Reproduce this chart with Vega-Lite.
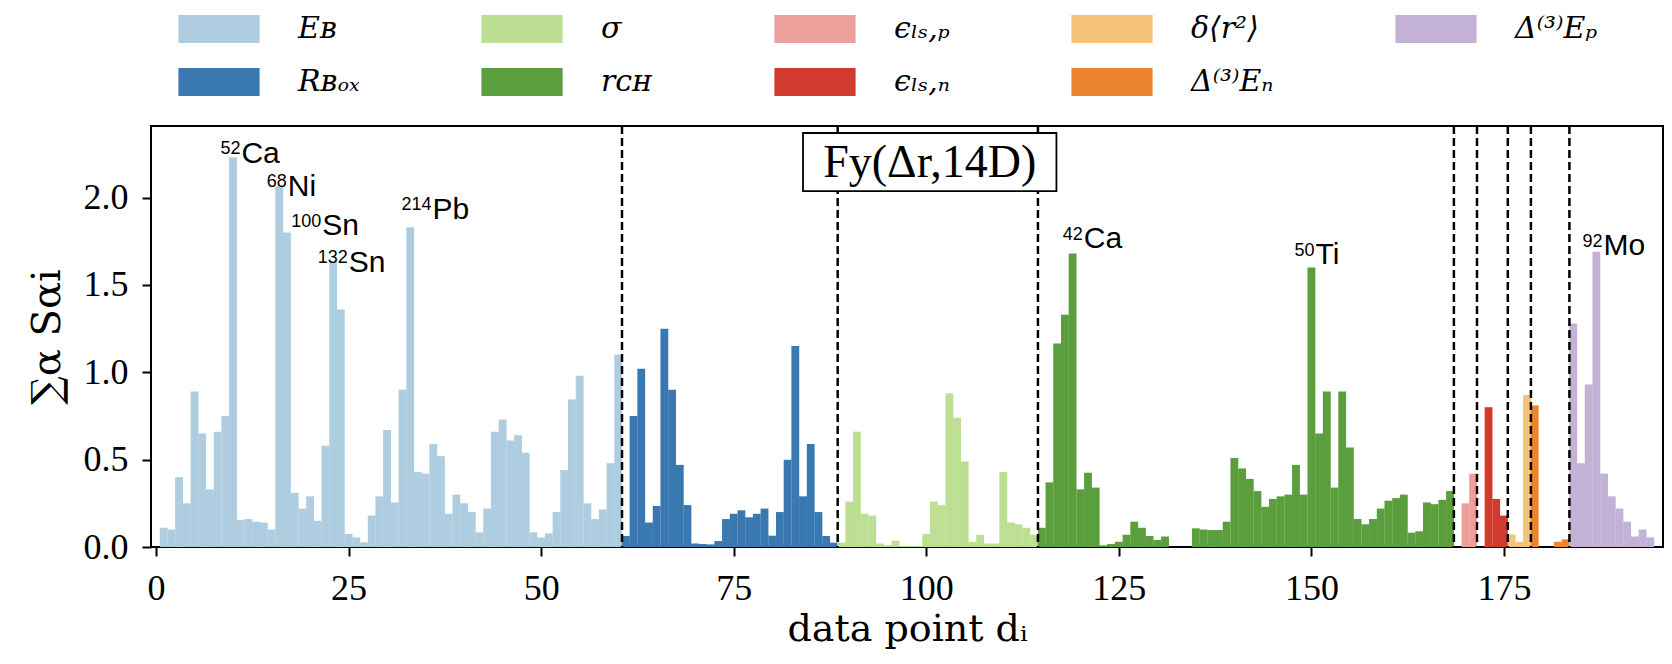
{
  "$schema": "https://vega.github.io/schema/vega-lite/v6.json",
  "width": 1512,
  "height": 421,
  "autosize": "none",
  "padding": {"left": 151, "top": 126, "right": 9, "bottom": 117},
  "background": "white",
  "config": {
    "view": {"stroke": "black", "strokeWidth": 2},
    "axis": {
      "domain": false, "grid": false,
      "tickColor": "black", "tickWidth": 2, "tickSize": 9,
      "labelFont": "Liberation Serif", "labelFontSize": 36, "labelColor": "black",
      "labelFlush": false, "labelOverlap": false,
      "titleFont": "DejaVu Serif", "titleFontSize": 38, "titleFontWeight": "normal", "titleColor": "black"
    },
    "legend": {
      "orient": "none", "legendX": 53, "legendY": -112, "columns": 5, "direction": "horizontal",
      "symbolType": "M-2.9,-1H2.9V1H-2.9Z", "symbolSize": 784, "symbolStrokeWidth": 0, "symbolOpacity": 1,
      "labelFont": "DejaVu Serif", "labelFontSize": 30, "labelFontStyle": "italic", "labelColor": "black",
      "labelOffset": 64, "labelLimit": 400, "columnPadding": 121, "rowPadding": 23
    }
  },
  "datasets": {
    "bars": [
      {"d":1,"v":0.11,"p":"EB"},{"d":2,"v":0.10,"p":"EB"},{"d":3,"v":0.40,"p":"EB"},{"d":4,"v":0.25,"p":"EB"},{"d":5,"v":0.89,"p":"EB"},
      {"d":6,"v":0.65,"p":"EB"},{"d":7,"v":0.33,"p":"EB"},{"d":8,"v":0.66,"p":"EB"},{"d":9,"v":0.75,"p":"EB"},{"d":10,"v":2.23,"p":"EB"},
      {"d":11,"v":0.155,"p":"EB"},{"d":12,"v":0.16,"p":"EB"},{"d":13,"v":0.145,"p":"EB"},{"d":14,"v":0.14,"p":"EB"},{"d":15,"v":0.10,"p":"EB"},
      {"d":16,"v":2.065,"p":"EB"},{"d":17,"v":1.80,"p":"EB"},{"d":18,"v":0.31,"p":"EB"},{"d":19,"v":0.22,"p":"EB"},{"d":20,"v":0.29,"p":"EB"},
      {"d":21,"v":0.15,"p":"EB"},{"d":22,"v":0.58,"p":"EB"},{"d":23,"v":1.63,"p":"EB"},{"d":24,"v":1.36,"p":"EB"},{"d":25,"v":0.075,"p":"EB"},
      {"d":26,"v":0.055,"p":"EB"},{"d":27,"v":0.027,"p":"EB"},{"d":28,"v":0.18,"p":"EB"},{"d":29,"v":0.29,"p":"EB"},{"d":30,"v":0.67,"p":"EB"},
      {"d":31,"v":0.255,"p":"EB"},{"d":32,"v":0.90,"p":"EB"},{"d":33,"v":1.83,"p":"EB"},{"d":34,"v":0.43,"p":"EB"},{"d":35,"v":0.42,"p":"EB"},
      {"d":36,"v":0.59,"p":"EB"},{"d":37,"v":0.52,"p":"EB"},{"d":38,"v":0.19,"p":"EB"},{"d":39,"v":0.30,"p":"EB"},{"d":40,"v":0.25,"p":"EB"},
      {"d":41,"v":0.20,"p":"EB"},{"d":42,"v":0.084,"p":"EB"},{"d":43,"v":0.22,"p":"EB"},{"d":44,"v":0.66,"p":"EB"},{"d":45,"v":0.73,"p":"EB"},
      {"d":46,"v":0.61,"p":"EB"},{"d":47,"v":0.64,"p":"EB"},{"d":48,"v":0.54,"p":"EB"},{"d":49,"v":0.084,"p":"EB"},{"d":50,"v":0.055,"p":"EB"},
      {"d":51,"v":0.078,"p":"EB"},{"d":52,"v":0.20,"p":"EB"},{"d":53,"v":0.44,"p":"EB"},{"d":54,"v":0.845,"p":"EB"},{"d":55,"v":0.98,"p":"EB"},
      {"d":56,"v":0.25,"p":"EB"},{"d":57,"v":0.16,"p":"EB"},{"d":58,"v":0.215,"p":"EB"},{"d":59,"v":0.48,"p":"EB"},{"d":60,"v":1.10,"p":"EB"},
      {"d":61,"v":0.063,"p":"Rbox"},{"d":62,"v":0.75,"p":"Rbox"},{"d":63,"v":1.02,"p":"Rbox"},{"d":64,"v":0.14,"p":"Rbox"},{"d":65,"v":0.235,"p":"Rbox"},
      {"d":66,"v":1.25,"p":"Rbox"},{"d":67,"v":0.90,"p":"Rbox"},{"d":68,"v":0.47,"p":"Rbox"},{"d":69,"v":0.24,"p":"Rbox"},{"d":70,"v":0.02,"p":"Rbox"},
      {"d":71,"v":0.017,"p":"Rbox"},{"d":72,"v":0.015,"p":"Rbox"},{"d":73,"v":0.034,"p":"Rbox"},{"d":74,"v":0.16,"p":"Rbox"},{"d":75,"v":0.19,"p":"Rbox"},
      {"d":76,"v":0.21,"p":"Rbox"},{"d":77,"v":0.17,"p":"Rbox"},{"d":78,"v":0.19,"p":"Rbox"},{"d":79,"v":0.22,"p":"Rbox"},{"d":80,"v":0.065,"p":"Rbox"},
      {"d":81,"v":0.20,"p":"Rbox"},{"d":82,"v":0.50,"p":"Rbox"},{"d":83,"v":1.15,"p":"Rbox"},{"d":84,"v":0.29,"p":"Rbox"},{"d":85,"v":0.59,"p":"Rbox"},
      {"d":86,"v":0.20,"p":"Rbox"},{"d":87,"v":0.063,"p":"Rbox"},{"d":88,"v":0.025,"p":"Rbox"},
      {"d":89,"v":0.025,"p":"sig"},{"d":90,"v":0.26,"p":"sig"},{"d":91,"v":0.66,"p":"sig"},{"d":92,"v":0.19,"p":"sig"},{"d":93,"v":0.18,"p":"sig"},
      {"d":94,"v":0.02,"p":"sig"},{"d":95,"v":0.01,"p":"sig"},{"d":96,"v":0.036,"p":"sig"},{"d":97,"v":0.006,"p":"sig"},{"d":98,"v":0.006,"p":"sig"},
      {"d":99,"v":0.006,"p":"sig"},{"d":100,"v":0.075,"p":"sig"},{"d":101,"v":0.26,"p":"sig"},{"d":102,"v":0.24,"p":"sig"},{"d":103,"v":0.88,"p":"sig"},
      {"d":104,"v":0.74,"p":"sig"},{"d":105,"v":0.49,"p":"sig"},{"d":106,"v":0.03,"p":"sig"},{"d":107,"v":0.07,"p":"sig"},{"d":108,"v":0.02,"p":"sig"},
      {"d":109,"v":0.02,"p":"sig"},{"d":110,"v":0.43,"p":"sig"},{"d":111,"v":0.14,"p":"sig"},{"d":112,"v":0.13,"p":"sig"},{"d":113,"v":0.11,"p":"sig"},
      {"d":114,"v":0.07,"p":"sig"},
      {"d":115,"v":0.11,"p":"rch"},{"d":116,"v":0.37,"p":"rch"},{"d":117,"v":1.165,"p":"rch"},{"d":118,"v":1.33,"p":"rch"},{"d":119,"v":1.68,"p":"rch"},
      {"d":120,"v":0.33,"p":"rch"},{"d":121,"v":0.425,"p":"rch"},{"d":122,"v":0.34,"p":"rch"},{"d":123,"v":0.01,"p":"rch"},{"d":124,"v":0.017,"p":"rch"},
      {"d":125,"v":0.03,"p":"rch"},{"d":126,"v":0.07,"p":"rch"},{"d":127,"v":0.145,"p":"rch"},{"d":128,"v":0.11,"p":"rch"},{"d":129,"v":0.063,"p":"rch"},
      {"d":130,"v":0.04,"p":"rch"},{"d":131,"v":0.06,"p":"rch"},{"d":132,"v":0,"p":"rch"},{"d":133,"v":0,"p":"rch"},{"d":134,"v":0,"p":"rch"},
      {"d":135,"v":0.107,"p":"rch"},{"d":136,"v":0.10,"p":"rch"},{"d":137,"v":0.097,"p":"rch"},{"d":138,"v":0.097,"p":"rch"},{"d":139,"v":0.145,"p":"rch"},
      {"d":140,"v":0.51,"p":"rch"},{"d":141,"v":0.45,"p":"rch"},{"d":142,"v":0.39,"p":"rch"},{"d":143,"v":0.32,"p":"rch"},{"d":144,"v":0.23,"p":"rch"},
      {"d":145,"v":0.275,"p":"rch"},{"d":146,"v":0.29,"p":"rch"},{"d":147,"v":0.30,"p":"rch"},{"d":148,"v":0.47,"p":"rch"},{"d":149,"v":0.30,"p":"rch"},
      {"d":150,"v":1.60,"p":"rch"},{"d":151,"v":0.65,"p":"rch"},{"d":152,"v":0.89,"p":"rch"},{"d":153,"v":0.34,"p":"rch"},{"d":154,"v":0.89,"p":"rch"},
      {"d":155,"v":0.57,"p":"rch"},{"d":156,"v":0.16,"p":"rch"},{"d":157,"v":0.13,"p":"rch"},{"d":158,"v":0.16,"p":"rch"},{"d":159,"v":0.22,"p":"rch"},
      {"d":160,"v":0.265,"p":"rch"},{"d":161,"v":0.28,"p":"rch"},{"d":162,"v":0.30,"p":"rch"},{"d":163,"v":0.082,"p":"rch"},{"d":164,"v":0.09,"p":"rch"},
      {"d":165,"v":0.255,"p":"rch"},{"d":166,"v":0.245,"p":"rch"},{"d":167,"v":0.27,"p":"rch"},{"d":168,"v":0.32,"p":"rch"},
      {"d":169,"v":0,"p":"ep"},{"d":170,"v":0.25,"p":"ep"},{"d":171,"v":0.42,"p":"ep"},
      {"d":172,"v":0,"p":"en"},{"d":173,"v":0.80,"p":"en"},{"d":174,"v":0.275,"p":"en"},{"d":175,"v":0.18,"p":"en"},
      {"d":176,"v":0.072,"p":"dr"},{"d":177,"v":0.03,"p":"dr"},{"d":178,"v":0.87,"p":"dr"},
      {"d":179,"v":0.81,"p":"En"},{"d":180,"v":0,"p":"En"},{"d":181,"v":0,"p":"En"},{"d":182,"v":0.03,"p":"En"},{"d":183,"v":0.044,"p":"En"},
      {"d":184,"v":1.28,"p":"Ep"},{"d":185,"v":0.48,"p":"Ep"},{"d":186,"v":0.93,"p":"Ep"},{"d":187,"v":1.69,"p":"Ep"},{"d":188,"v":0.42,"p":"Ep"},
      {"d":189,"v":0.29,"p":"Ep"},{"d":190,"v":0.22,"p":"Ep"},{"d":191,"v":0.145,"p":"Ep"},{"d":192,"v":0.06,"p":"Ep"},{"d":193,"v":0.10,"p":"Ep"},
      {"d":194,"v":0.055,"p":"Ep"}
    ],
    "dividers": [{"b":60.5},{"b":88.5},{"b":114.5},{"b":168.5},{"b":171.5},{"b":175.5},{"b":178.5},{"b":183.5}],
    "notes": [
      {"sup":"52","el":"Ca","x":10.96,"y":2.20},
      {"sup":"68","el":"Ni","x":16.98,"y":2.01},
      {"sup":"100","el":"Sn","x":21.45,"y":1.785},
      {"sup":"132","el":"Sn","x":24.89,"y":1.575},
      {"sup":"214","el":"Pb","x":35.77,"y":1.88},
      {"sup":"42","el":"Ca","x":120.33,"y":1.71},
      {"sup":"50","el":"Ti","x":150.4,"y":1.62},
      {"sup":"92","el":"Mo","x":187.8,"y":1.67}
    ]
  },
  "layer": [
    {
      "data": {"name": "bars"},
      "mark": {"type": "bar", "width": 7.85, "strokeWidth": 0},
      "encoding": {
        "x": {"field": "d", "type": "quantitative",
              "scale": {"domain": [0, 195], "nice": false, "zero": false},
              "axis": {"values": [0, 25, 50, 75, 100, 125, 150, 175], "labelPadding": 15, "titlePadding": 4},
              "title": "data point dᵢ"},
        "y": {"field": "v", "type": "quantitative",
              "scale": {"domain": [0, 2.41], "nice": false},
              "axis": {"values": [0, 0.5, 1, 1.5, 2], "format": ".1f", "labelPadding": 14, "titlePadding": 16, "titleFontSize": 40},
              "title": "∑α Sαi"},
        "color": {"field": "p", "type": "nominal",
                  "scale": {"domain": ["EB", "sig", "ep", "dr", "Ep", "Rbox", "rch", "en", "En"],
                            "range": ["#aecde1", "#bddf93", "#ed9f9b", "#f5c27a", "#c4b1d6", "#3a78b1", "#5a9e3e", "#d03a2f", "#ed8530"]},
                  "legend": {"title": null,
                             "labelExpr": "{'EB':'Eʙ','Rbox':'Rʙₒₓ','sig':'σ','rch':'rᴄʜ','ep':'ϵₗₛ,ₚ','en':'ϵₗₛ,ₙ','dr':'δ⟨r²⟩','En':'Δ⁽³⁾Eₙ','Ep':'Δ⁽³⁾Eₚ'}[datum.label]"}}
      }
    },
    {
      "data": {"name": "dividers"},
      "mark": {"type": "rule", "color": "black", "strokeWidth": 2.5, "strokeDash": [8, 4]},
      "encoding": {"x": {"field": "b", "type": "quantitative"}}
    },
    {
      "data": {"values": [{}]},
      "mark": {"type": "rect", "fill": "white", "stroke": "black", "strokeWidth": 1.8},
      "encoding": {"x": {"datum": 84.0}, "x2": {"datum": 116.9}, "y": {"datum": 2.37}, "y2": {"datum": 2.037}}
    },
    {
      "data": {"values": [{}]},
      "mark": {"type": "text", "text": "Fy(Δr,14D)", "font": "Liberation Serif", "fontSize": 46, "color": "black", "align": "center", "baseline": "middle"},
      "encoding": {"x": {"datum": 100.45}, "y": {"datum": 2.20}}
    },
    {
      "data": {"name": "notes"},
      "mark": {"type": "text", "font": "Liberation Sans", "fontSize": 30, "color": "black", "align": "left", "baseline": "alphabetic", "dx": 1},
      "encoding": {"x": {"field": "x", "type": "quantitative"}, "y": {"field": "y", "type": "quantitative"}, "text": {"field": "el"}}
    },
    {
      "data": {"name": "notes"},
      "mark": {"type": "text", "font": "Liberation Sans", "fontSize": 18, "color": "black", "align": "right", "baseline": "alphabetic", "dy": -8.5},
      "encoding": {"x": {"field": "x", "type": "quantitative"}, "y": {"field": "y", "type": "quantitative"}, "text": {"field": "sup"}}
    }
  ]
}
